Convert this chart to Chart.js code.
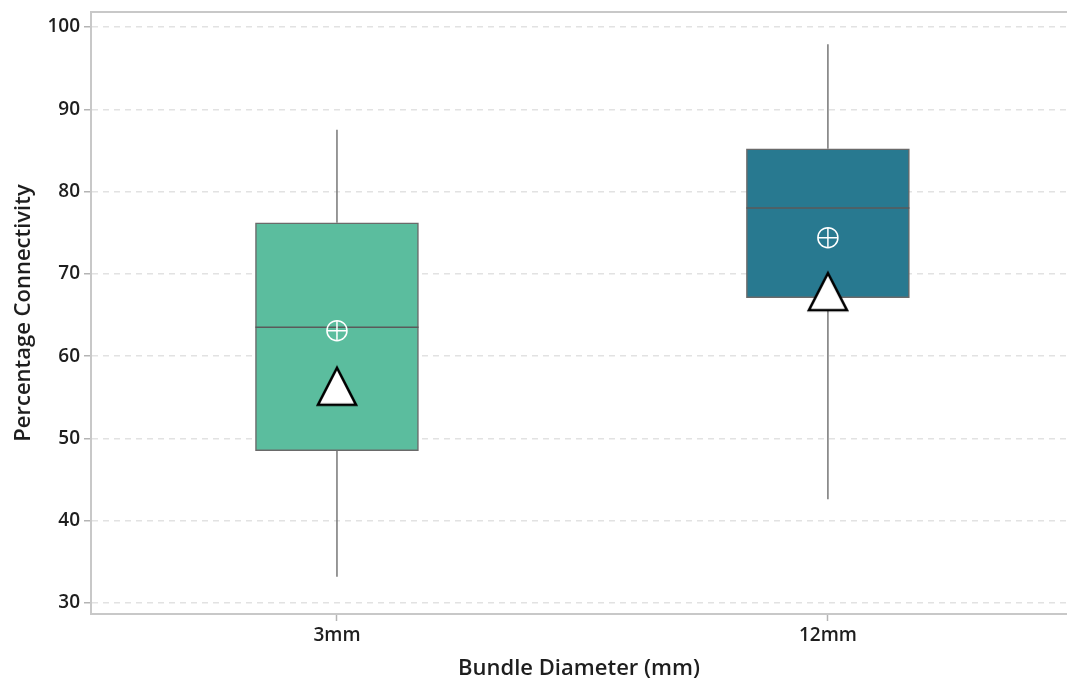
<!DOCTYPE html>
<html>
<head>
<meta charset="utf-8">
<script src="https://cdn.jsdelivr.net/npm/chart.js@4.4.1/dist/chart.umd.min.js"></script>
<style>
  html, body { margin: 0; padding: 0; background: #ffffff; }
  #wrap { width: 1067px; height: 686px; position: relative; }
</style>
</head>
<body>
<div id="wrap"><canvas id="chart" width="1067" height="686"></canvas></div>
<script>
// Bundle diameter groups and their connectivity summary statistics (%)
const categories = ['3mm', '12mm'];
const whiskerLow  = [33.2, 42.6];
const quartile1   = [48.5, 67.1];
const medians     = [63.5, 78.0];
const quartile3   = [76.2, 85.2];
const whiskerHigh = [87.5, 97.9];
const means       = [63.1, 74.4];
const refValues   = [56.4, 67.9];
const yTicks      = [30, 40, 50, 60, 70, 80, 90, 100];
const boxColors   = ['#5bbd9e', '#287990'];

const FONT = "'Open Sans', 'Noto Sans', 'DejaVu Sans', sans-serif";
const positions = categories.map((_, i) => i + 1);

// Tall outlined triangle marker
function makeTriangle() {
  const c = document.createElement('canvas');
  c.width = 48; c.height = 48;
  const g = c.getContext('2d');
  g.beginPath();
  g.moveTo(24, 6);
  g.lineTo(43, 43);
  g.lineTo(5, 43);
  g.closePath();
  g.fillStyle = '#ffffff';
  g.fill();
  g.lineJoin = 'miter';
  g.lineWidth = 2.6;
  g.strokeStyle = '#000000';
  g.stroke();
  return c;
}
const triangleMarker = makeTriangle();

// Whiskers, medians and the upper frame line
const boxExtras = {
  id: 'boxExtras',
  afterDatasetDraw(chart, args) {
    if (args.index !== 0) return;
    const { ctx, scales: { x, y } } = chart;
    const meta = chart.getDatasetMeta(0);
    ctx.save();
    positions.forEach((p, i) => {
      const px = x.getPixelForValue(p);
      ctx.strokeStyle = '#777777';
      ctx.lineWidth = 1.5;
      ctx.beginPath();
      ctx.moveTo(px, y.getPixelForValue(whiskerLow[i]));
      ctx.lineTo(px, y.getPixelForValue(quartile1[i]));
      ctx.moveTo(px, y.getPixelForValue(quartile3[i]));
      ctx.lineTo(px, y.getPixelForValue(whiskerHigh[i]));
      ctx.stroke();
      const bar = meta.data[i];
      const half = bar.width / 2;
      const my = y.getPixelForValue(medians[i]);
      ctx.strokeStyle = '#5a5a5a';
      ctx.lineWidth = 1.5;
      ctx.beginPath();
      ctx.moveTo(px - half, my);
      ctx.lineTo(px + half, my);
      ctx.stroke();
    });
    ctx.restore();
  },
  afterDraw(chart) {
    const { ctx, chartArea } = chart;
    ctx.save();
    ctx.strokeStyle = '#c8c8c8';
    ctx.lineWidth = 2;
    ctx.beginPath();
    ctx.moveTo(chartArea.left - 1, chartArea.top);
    ctx.lineTo(chart.width, chartArea.top);
    ctx.stroke();
    ctx.restore();
  }
};

new Chart(document.getElementById('chart'), {
  type: 'bar',
  data: {
    datasets: [
      {
        type: 'bar',
        order: 3,
        data: positions.map((p, i) => ({ x: p, y: [quartile1[i], quartile3[i]] })),
        backgroundColor: boxColors,
        borderColor: '#6a6a6a',
        borderWidth: 1.5,
        borderSkipped: false,
        barThickness: 163
      },
      {
        type: 'line',
        order: 1,
        showLine: false,
        data: positions.map((p, i) => ({ x: p, y: means[i] })),
        pointStyle: 'circle',
        pointRadius: 10,
        pointBorderWidth: 1.5,
        pointBorderColor: '#ffffff',
        pointBackgroundColor: 'rgba(0,0,0,0)'
      },
      {
        type: 'line',
        order: 1,
        showLine: false,
        data: positions.map((p, i) => ({ x: p, y: means[i] })),
        pointStyle: 'cross',
        pointRadius: 10,
        pointBorderWidth: 1.5,
        pointBorderColor: '#ffffff'
      },
      {
        type: 'line',
        order: 0,
        showLine: false,
        data: positions.map((p, i) => ({ x: p, y: refValues[i] })),
        pointStyle: triangleMarker
      }
    ]
  },
  options: {
    responsive: false,
    animation: false,
    layout: { autoPadding: false, padding: { top: 12, right: 0, left: 7, bottom: 0 } },
    plugins: { legend: { display: false }, tooltip: { enabled: false } },
    scales: {
      x: {
        type: 'linear',
        offset: false,
        bounds: 'data',
        min: 0.499,
        max: 2.487,
        afterBuildTicks(scale) { scale.ticks = positions.map(v => ({ value: v })); },
        afterFit(scale) { scale.height = 72; scale.paddingRight = 0; scale.paddingLeft = 0; },
        ticks: {
          callback: v => categories[v - 1],
          color: '#1e1e1e',
          padding: 3,
          autoSkip: false,
          maxRotation: 0,
          font: { family: FONT, size: 19, weight: '600' }
        },
        grid: { offset: false, drawOnChartArea: false, drawTicks: true, tickLength: 7, tickColor: '#b4b4b4', tickWidth: 1.5 },
        border: { display: true, color: '#c8c8c8', width: 2 },
        title: {
          display: true,
          text: 'Bundle Diameter (mm)',
          color: '#1e1e1e',
          padding: { top: 7 },
          font: { family: FONT, size: 22, weight: '600' }
        }
      },
      y: {
        min: 28.663,
        max: 101.823,
        afterBuildTicks(scale) { scale.ticks = yTicks.map(v => ({ value: v })); },
        afterFit(scale) { scale.width = 84; scale.paddingTop = 0; scale.paddingBottom = 0; },
        ticks: {
          color: '#1e1e1e',
          padding: 4,
          font: { family: FONT, size: 19, weight: '600' }
        },
        grid: {
          color: '#e2e2e2',
          lineWidth: 1.5,
          tickLength: 7,
          tickColor: '#b4b4b4',
          tickBorderDash: [],
          tickWidth: 1.5
        },
        border: { display: true, color: '#c8c8c8', width: 2, dash: [6, 5] },
        title: {
          display: true,
          text: 'Percentage Connectivity',
          color: '#1e1e1e',
          padding: { bottom: 2 },
          font: { family: FONT, size: 22, weight: '600' }
        }
      }
    }
  },
  plugins: [boxExtras]
});
</script>
</body>
</html>
